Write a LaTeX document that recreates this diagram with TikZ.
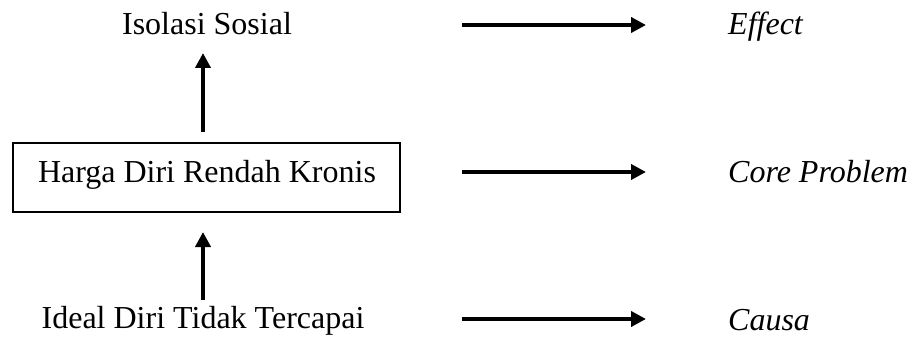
\documentclass[tikz,border=0pt]{standalone}
\usepackage{fontspec}
\setmainfont{Liberation Serif}
\usetikzlibrary{arrows.meta}
\begin{document}
\begin{tikzpicture}[x=1pt,y=-1pt,
  lbl/.style={inner sep=0pt,anchor=base,font=\fontsize{32}{36}\selectfont},
  tag/.style={inner sep=0pt,anchor=base west,font=\fontsize{32}{36}\selectfont\itshape},
  flow/.style={line width=4pt,-{Triangle[length=15pt,width=15pt]}},
  frame/.style={draw,line width=2.5pt,minimum width=387pt,minimum height=69pt,inner sep=0pt}]
\useasboundingbox (0,0) rectangle (911,337);
% left column
\node[lbl] (iso) at (207,35) {Isolasi Sosial};
\node[frame] (hdr) at (206.5,177.5) {};
\node[lbl] (hdrtxt) at (207,182) {Harga Diri Rendah Kronis};
\node[lbl] (idl) at (203,328) {Ideal Diri Tidak Tercapai};
\coordinate (a1) at (203,132);
\coordinate (a1t) at (203,53);
\coordinate (a2) at (203,300);
\coordinate (a2t) at (203,232);
\draw[flow] (a1) -- (a1t);
\draw[flow] (a2) -- (a2t);
% right column
\node[tag] (eff) at (728,35) {Effect};
\node[tag] (core) at (728,182) {Core Problem};
\node[tag] (cau) at (728,330) {Causa};
\coordinate (h1) at (462,25);
\coordinate (h2) at (462,172);
\coordinate (h3) at (462,319);
\draw[flow] (h1) -- (h1 -| 646,0);
\draw[flow] (h2) -- (h2 -| 646,0);
\draw[flow] (h3) -- (h3 -| 646,0);
\end{tikzpicture}
\end{document}
